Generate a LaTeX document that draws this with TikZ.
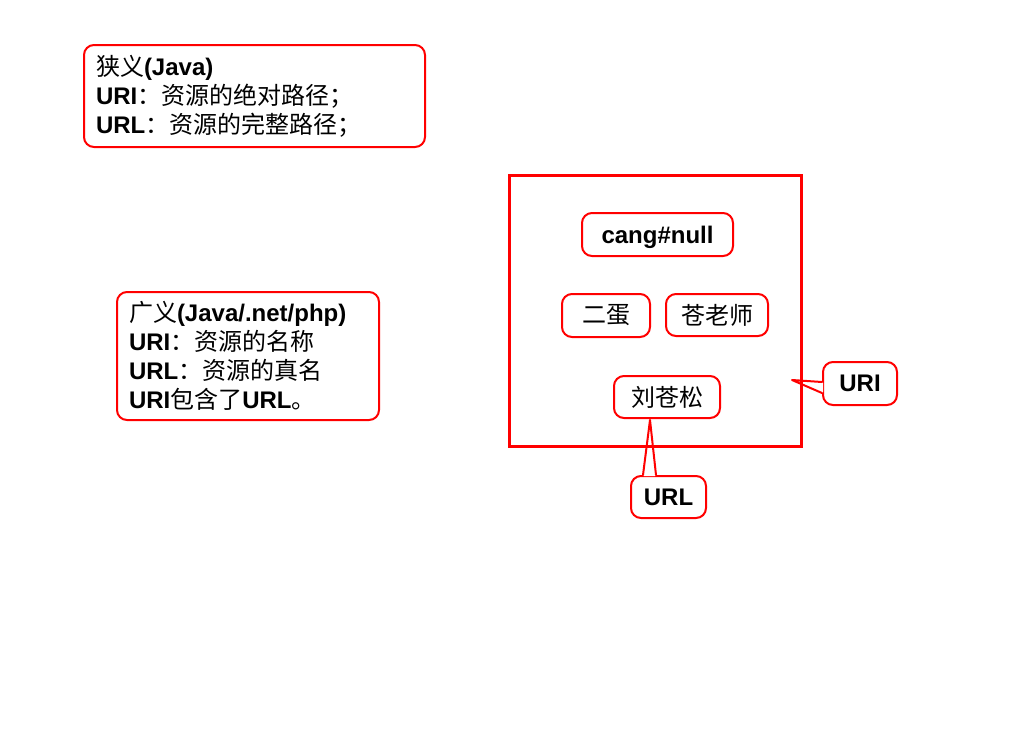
\documentclass[tikz,border=0pt]{standalone}
\usepackage{fontspec}
\setmainfont{Liberation Sans}
\newfontfamily\cjk{Noto Sans CJK SC}
\newcommand{\zh}[1]{{\cjk\mdseries #1}}
\usetikzlibrary{calc}
\begin{document}
\begin{tikzpicture}[x=1pt,y=-1pt,
  every node/.style={font=\fontsize{24}{29}\selectfont\bfseries},
  redbox/.style={draw=red, line width=2pt, rounded corners=10pt, fill=white, inner sep=0pt},
  notebox/.style={redbox, anchor=north west, align=left, inner xsep=12pt},
  wedgeline/.style={draw=red, line width=2pt, line join=round, line cap=round}]
\useasboundingbox (0,0) rectangle (1024,742);

% notes on the left
\node[notebox, minimum width=341pt, minimum height=102pt, text width=317pt] (narrow) at (83,44)
  {\zh{狭义}(Java)\\URI\zh{：资源的绝对路径；}\\URL\zh{：资源的完整路径；}};
\node[notebox, minimum width=262pt, minimum height=128pt, text width=238pt] (broad) at (116,291)
  {\zh{广义}(Java/.net/php)\\URI\zh{：资源的名称}\\URL\zh{：资源的真名}\\URI\zh{包含了}URL\zh{。}};

% names inside the URI set
\node[redbox, minimum width=151pt, minimum height=43pt, text depth=0pt] (cang) at (657.5,234.5) {cang\#null};
\node[redbox, minimum width=88pt, minimum height=43pt] (erdan) at (606,315.5) {\zh{二蛋}};
\node[redbox, minimum width=102pt, minimum height=42pt] (laoshi) at (717,315) {\zh{苍老师}};
\node[redbox, minimum width=106pt, minimum height=42pt] (liu) at (667,397) {\zh{刘苍松}};

% callouts
\node[redbox, minimum width=74pt, minimum height=43pt] (uri) at (860,383.5) {URI};
\node[redbox, minimum width=75pt, minimum height=42pt] (url) at (668.5,497) {URL};
\coordinate (uri-tip) at (792,380);
\coordinate (url-tip) at ($(liu.south)+(-17,1)$);

% URL pointer
\coordinate (ua) at ($(url.north)+(-25.5,0)$);
\coordinate (ub) at ($(url.north)+(-12.5,0)$);
\fill[white] ($(ua)+(1,1.2)$) -- (ua) -- (url-tip) -- (ub) -- ($(ub)+(-1,1.2)$) -- cycle;
\draw[wedgeline] (ua) -- (url-tip) -- (ub);

% URI pointer
\coordinate (ia) at ($(uri.west)+(0,-1.5)$);
\coordinate (ib) at ($(uri.west)+(0,9.5)$);
\fill[white] ($(ia)+(1.2,1)$) -- (ia) -- (uri-tip) -- (ib) -- ($(ib)+(1.2,-1)$) -- cycle;
\draw[wedgeline] (ia) -- (uri-tip) -- (ib);

% the URI set
\node[draw=red, line width=3pt, minimum width=292pt, minimum height=271pt, anchor=north west, inner sep=0pt] (uriset) at (508,174) {};
\end{tikzpicture}
\end{document}
